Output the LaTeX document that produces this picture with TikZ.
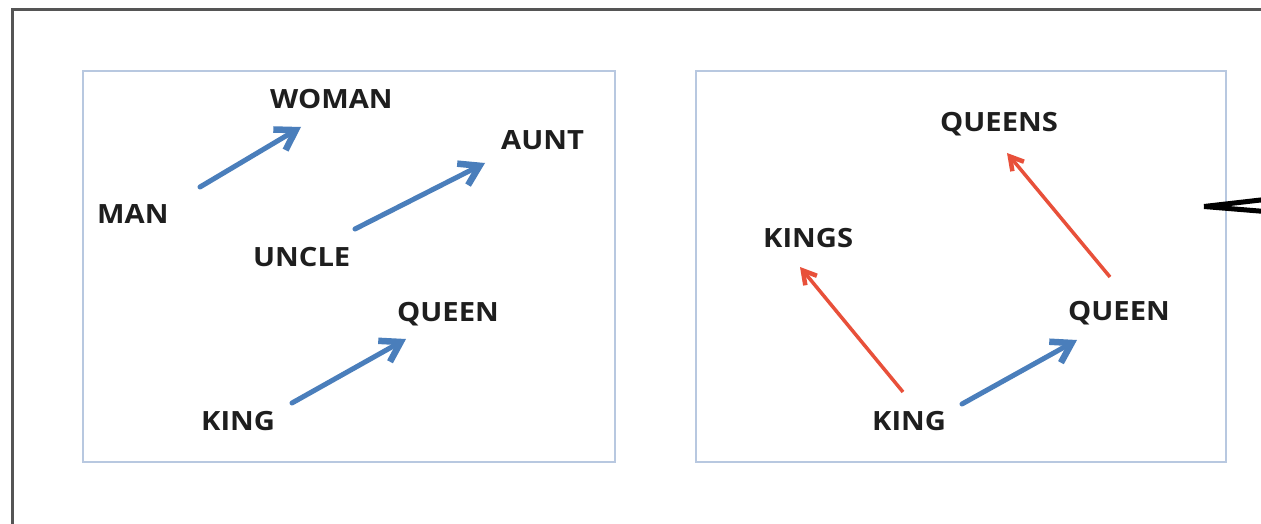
\documentclass[tikz,border=0pt]{standalone}
\usepackage{fontspec}
\setmainfont{Open Sans}[FakeStretch=1.1]
\usetikzlibrary{arrows.meta}
\definecolor{vecblue}{HTML}{4A7EBB}
\definecolor{vecred}{HTML}{E8503A}
\definecolor{framegray}{HTML}{555555}
\definecolor{panelblue}{HTML}{B8C8E0}
\definecolor{wordink}{HTML}{1E1E1E}
\begin{document}
\begin{tikzpicture}[x=1pt,y=-1pt,
  word/.style={anchor=west, inner sep=0pt, text=wordink,
    font=\bfseries\fontsize{26.5}{26.5}\selectfont, text height=19pt, text depth=0pt},
  panel/.style={draw=panelblue, line width=2pt},
  bluevec/.style={draw=vecblue, line width=5pt, line cap=round,
    -{Straight Barb[length=19pt,width=24pt,line width'=6.5pt]}},
  redvec/.style={draw=vecred, line width=3.5pt,
    -{Straight Barb[length=13pt,width=15pt,line width'=4.5pt]}},
]
\useasboundingbox (0,0) rectangle (1261,524);
\clip (0,0) rectangle (1261,524);
\fill[white] (0,0) rectangle (1261,524);

% outer frame, running past the right and bottom edges
\draw[framegray, line width=3pt] (12,600) -- (12,9.5) -- (1300,9.5);

% the two panels
\draw[panel] (82.5,71.5) rectangle (615,462);
\draw[panel] (696,71.5) rectangle (1226,462);

% left panel: words
\node[word] (woman)  at (270,99)  {WOMAN};
\node[word] (aunt)   at (501,140) {AUNT};
\node[word] (man)    at (97,214)  {MAN};
\node[word] (uncle)  at (253,257) {UNCLE};
\node[word] (queenL) at (397,312) {QUEEN};
\node[word] (kingL)  at (201,421) {KING};

% right panel: words
\node[word] (queens) at (940,122)  {QUEENS};
\node[word] (kings)  at (763,238)  {KINGS};
\node[word] (queenR) at (1068,311) {QUEEN};
\node[word] (kingR)  at (872,421)  {KING};

% vector end points
\coordinate (manT)    at (200,187);
\coordinate (womanH)  at (301,127);
\coordinate (uncleT)  at (355,229);
\coordinate (auntH)   at (485,163);
\coordinate (kingLT)  at (292,403);
\coordinate (queenLH) at (406,339);
\coordinate (kingRT)  at (962,404);
\coordinate (queenRH) at (1077,340);
\coordinate (kingRU)  at (903,392);
\coordinate (kingsH)  at (800,267);
\coordinate (queenRU) at (1110,277);
\coordinate (queensH) at (1007,153);

% gender offsets
\draw[bluevec] (manT) -- (womanH);
\draw[bluevec] (uncleT) -- (auntH);
\draw[bluevec] (kingLT) -- (queenLH);
\draw[bluevec] (kingRT) -- (queenRH);
% plural offsets
\draw[redvec] (kingRU) -- (kingsH);
\draw[redvec] (queenRU) -- (queensH);

% pointer entering from the right edge
\coordinate (tip) at (1204,206.5);
\draw[black, line width=5pt] (tip) -- (1265,199.5);
\draw[black, line width=5pt] (tip) -- (1265,211.5);
\end{tikzpicture}
\end{document}
